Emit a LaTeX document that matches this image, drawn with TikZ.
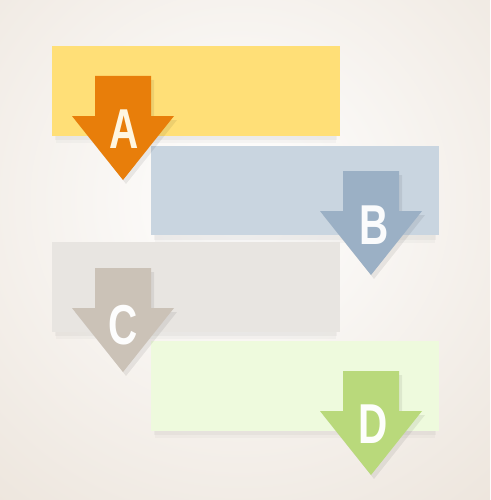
\documentclass[tikz,border=0pt]{standalone}
\definecolor{bgbeige}{RGB}{236, 228, 219}
\definecolor{cardyellow}{RGB}{255, 223, 119}
\definecolor{cardblue}{RGB}{201, 213, 224}
\definecolor{cardgray}{RGB}{232, 229, 225}
\definecolor{cardgreen}{RGB}{238, 250, 221}
\definecolor{tabA}{RGB}{232, 126, 10}
\definecolor{tabB}{RGB}{155, 176, 197}
\definecolor{tabC}{RGB}{203, 194, 183}
\definecolor{tabD}{RGB}{185, 217, 123}
\definecolor{lettercream}{RGB}{255, 246, 224}
\usepackage{fontspec}
\setsansfont{Liberation Sans}
\usepackage{tikz}
\usetikzlibrary{positioning, shadows}

\tikzset{
  card/.style={minimum width=5.76cm, minimum height=1.8cm, inner sep=0pt,
    drop shadow={opacity=.05, shadow xshift=0pt, shadow yshift=-5pt, shadow scale=.97},
    drop shadow={opacity=.07, shadow xshift=0pt, shadow yshift=-3pt, shadow scale=.98}},
  tab/.pic={
    \fill[pic actions] (-28,0) -- (28,0) -- (28,40) -- (51,40) -- (0,104) -- (-51,40) -- (-28,40) -- cycle;
  },
  tabshadow/.style={fill=black, opacity=.07},
  letter/.style={font=\sffamily\bfseries\fontsize{32}{32}\selectfont, inner sep=0pt}
}

\begin{document}
\begin{tikzpicture}[x=0.02cm, y=-0.02cm]
  \begin{scope}
    \clip (0,0) rectangle (490,500);
    \shade[inner color=white, outer color=bgbeige] (240,200) circle (420);
  \end{scope}
  \useasboundingbox (0,0) rectangle (490,500);

  \node[card, fill=cardyellow] (cardA) at (196,91) {};
  \node[card, fill=cardblue] (cardB) at (295,190.5) {};
  \node[card, fill=cardgray] (cardC) at (196,287) {};
  \node[card, fill=cardgreen] (cardD) at (295,386) {};

  \pic[tabshadow] at (126,80) {tab};
  \pic[fill=tabA] at (123,76) {tab};
  \pic[tabshadow] at (374,175) {tab};
  \pic[fill=tabB] at (371,171) {tab};
  \pic[tabshadow] at (126,272) {tab};
  \pic[fill=tabC] at (123,268) {tab};
  \pic[tabshadow] at (374,375) {tab};
  \pic[fill=tabD] at (371,371) {tab};

  \node[letter, text=lettercream] (letA) at (124,129) {\scalebox{.72}[1]{A}};
  \node[letter, text=white!90!cardblue] (letB) at (374,225) {\scalebox{.72}[1]{B}};
  \node[letter, text=white!92!cardgray] (letC) at (123,325) {\scalebox{.72}[1]{C}};
  \node[letter, text=white!90!cardgreen] (letD) at (373,424) {\scalebox{.72}[1]{D}};
\end{tikzpicture}
\end{document}
